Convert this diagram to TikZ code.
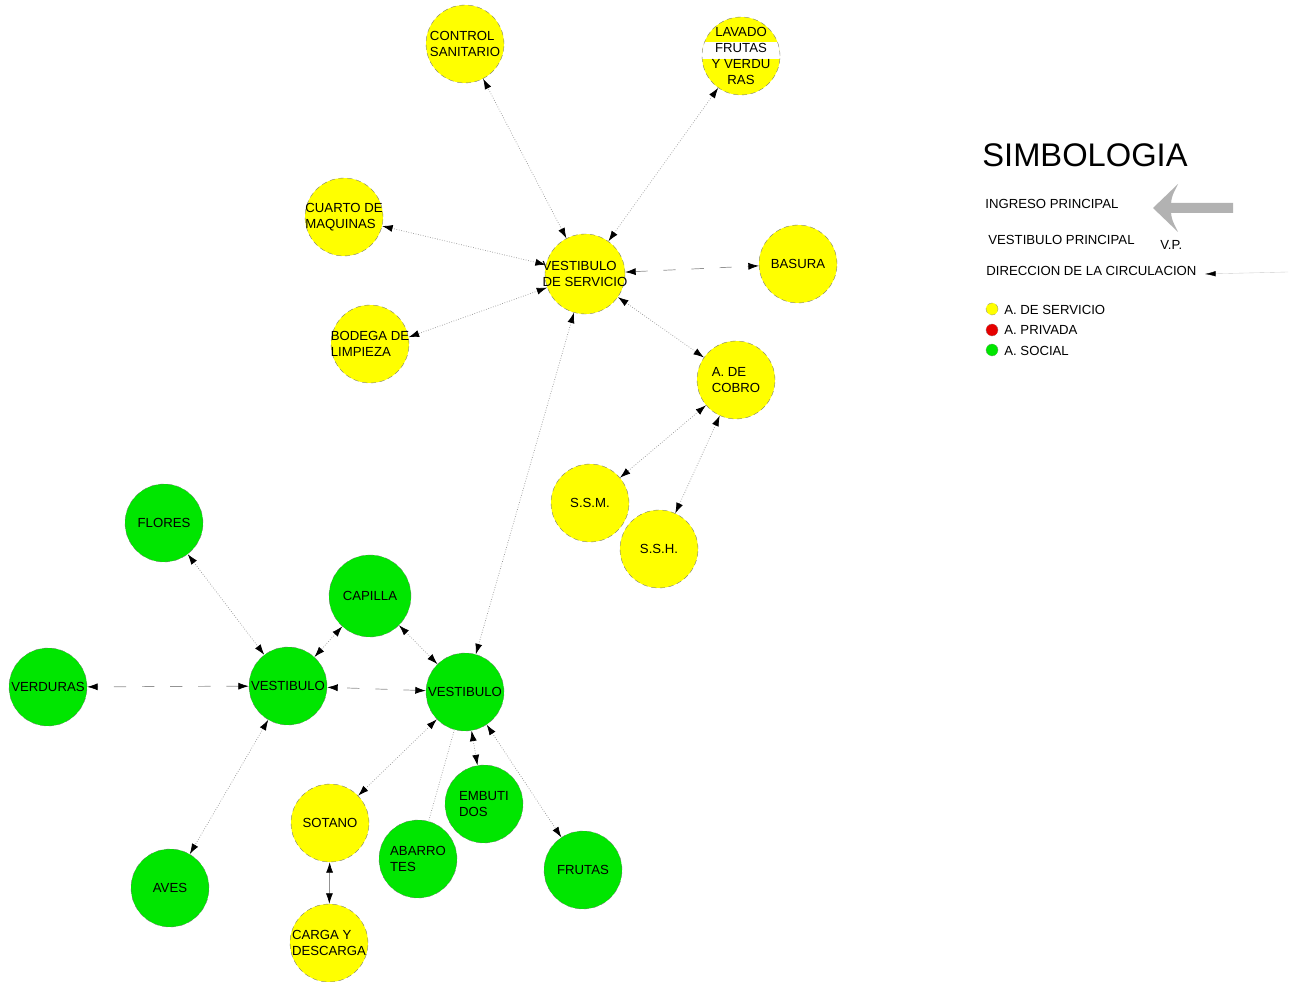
\documentclass[tikz,border=0pt]{standalone}
\usepackage{fontspec}
\setmainfont{Liberation Sans}
\usetikzlibrary{shapes,arrows,arrows.meta,positioning,calc}
\definecolor{servicio}{RGB}{255,255,0}
\definecolor{social}{RGB}{0,230,0}
\definecolor{privada}{RGB}{230,0,0}

\begin{document}
\begin{tikzpicture}[x=0.02cm,y=-0.02cm,
	area/.style={circle,draw=black!55,densely dashed,very thin,minimum size=1.56cm,inner sep=-6pt,align=left,font=\fontsize{7.5}{9}\selectfont},
	serv/.style={area,fill=servicio},
	soc/.style={area,fill=social},
	link/.style={gray!85,densely dotted,thin,{Latex[color=black,length=6pt,width=4pt]}-{Latex[color=black,length=6pt,width=4pt]}},
	linkd/.style={link,dash pattern=on 7pt off 9pt},
	ley/.style={anchor=west,inner sep=0pt,font=\fontsize{7.5}{9}\selectfont},
	punto/.style={circle,draw=black!45,densely dashed,very thin,minimum size=0.24cm,inner sep=0pt}]
	\useasboundingbox (0,0) rectangle (1290,982);
	\fill[white] (0,0) rectangle (1290,982);
	% zona de servicio
	\node[serv] (ctrl) at (465,44) {CONTROL\\SANITARIO};
	\node[serv,align=center,path picture={\fill[white] ([yshift=-0.06cm]path picture bounding box.west) rectangle ([yshift=0.28cm]path picture bounding box.east);}] (lav) at (741,56) {LAVADO\\FRUTAS\\Y VERDU\\RAS};
	\node[serv] (maq) at (344,217) {CUARTO DE\\MAQUINAS};
	\node[serv,minimum size=1.6cm] (vs) at (585,274) {VESTIBULO\\DE SERVICIO};
	\node[serv] (bas) at (798,264) {BASURA};
	\node[serv] (bod) at (370,344) {BODEGA DE\\LIMPIEZA};
	\node[serv] (cob) at (736,380) {A. DE\\COBRO};
	\node[serv] (ssm) at (590,503) {S.S.M.};
	\node[serv] (ssh) at (659,549) {S.S.H.};
	\node[serv] (sot) at (330,823) {SOTANO};
	\node[serv] (car) at (329,943) {CARGA Y\\DESCARGA};
	% zona social
	\node[soc] (flo) at (164,523) {FLORES};
	\node[soc,minimum size=1.64cm] (cap) at (370,596) {CAPILLA};
	\node[soc] (vi) at (288,686) {VESTIBULO};
	\node[soc] (vd) at (465,692) {VESTIBULO};
	\node[soc] (ver) at (48,687) {VERDURAS};
	\node[soc] (emb) at (484,804) {EMBUTI\\DOS};
	\node[soc] (aba) at (418,859) {ABARRO\\TES};
	\node[soc] (fru) at (583,870) {FRUTAS};
	\node[soc] (ave) at (170,888) {AVES};
	% circulaciones
	\draw[link] (vs) -- (ctrl);
	\draw[link] (vs) -- (lav);
	\draw[link] (vs) -- (maq);
	\draw[link] (vs) -- (bod.10);
	\draw[linkd] (vs) -- (bas);
	\draw[link] (vs) -- (cob);
	\draw[link] (vs) -- (vd);
	\draw[link] (cob) -- (ssm);
	\draw[link] (cob) -- (ssh);
	\draw[link] (flo) -- (vi);
	\draw[link] (cap) -- (vi);
	\draw[link] (cap) -- (vd);
	\draw[linkd] (vi) -- (ver);
	\draw[linkd] (vd) -- (vi);
	\draw[link] (vi) -- (ave);
	\draw[link] (vd) -- (sot);
	\draw[gray!85,densely dotted,thin] (vd) -- (aba);
	\draw[link] (vd) -- (emb);
	\draw[link] (vd) -- (fru);
	\draw[link,solid] (sot) -- (car);
	% simbologia
	\node[anchor=west,inner sep=0pt,font=\fontsize{18.6}{20}\selectfont] (tit) at (982,155) {SIMBOLOGIA};
	\node[ley] (ing) at (985,204) {INGRESO PRINCIPAL};
	\fill[gray!60] (1153,208) -- (1178,184) .. controls (1172,196) .. (1171,203) -- (1233,203) -- (1233,213) -- (1171,213) .. controls (1172,220) .. (1178,232) -- cycle;
	\node[ley] (vp) at (988,240) {VESTIBULO PRINCIPAL};
	\node[ley] (vpa) at (1160,245) {V.P.};
	\node[ley] (dir) at (986,271) {DIRECCION DE LA CIRCULACION};
	\coordinate (dirA) at (1205,274);
	\coordinate (dirB) at (1288,272);
	\draw[{Latex[color=black,length=6pt,width=3pt]}-,gray!40,very thin] (dirA) -- (dirB);
	\node[punto,fill=servicio] (p1) at (992,309) {};
	\node[punto,fill=privada] (p2) at (992,330) {};
	\node[punto,fill=social] (p3) at (992,350) {};
	\node[ley] at (1004,310) {A. DE SERVICIO};
	\node[ley] at (1004,330) {A. PRIVADA};
	\node[ley] at (1004,351) {A. SOCIAL};
\end{tikzpicture}
\end{document}
